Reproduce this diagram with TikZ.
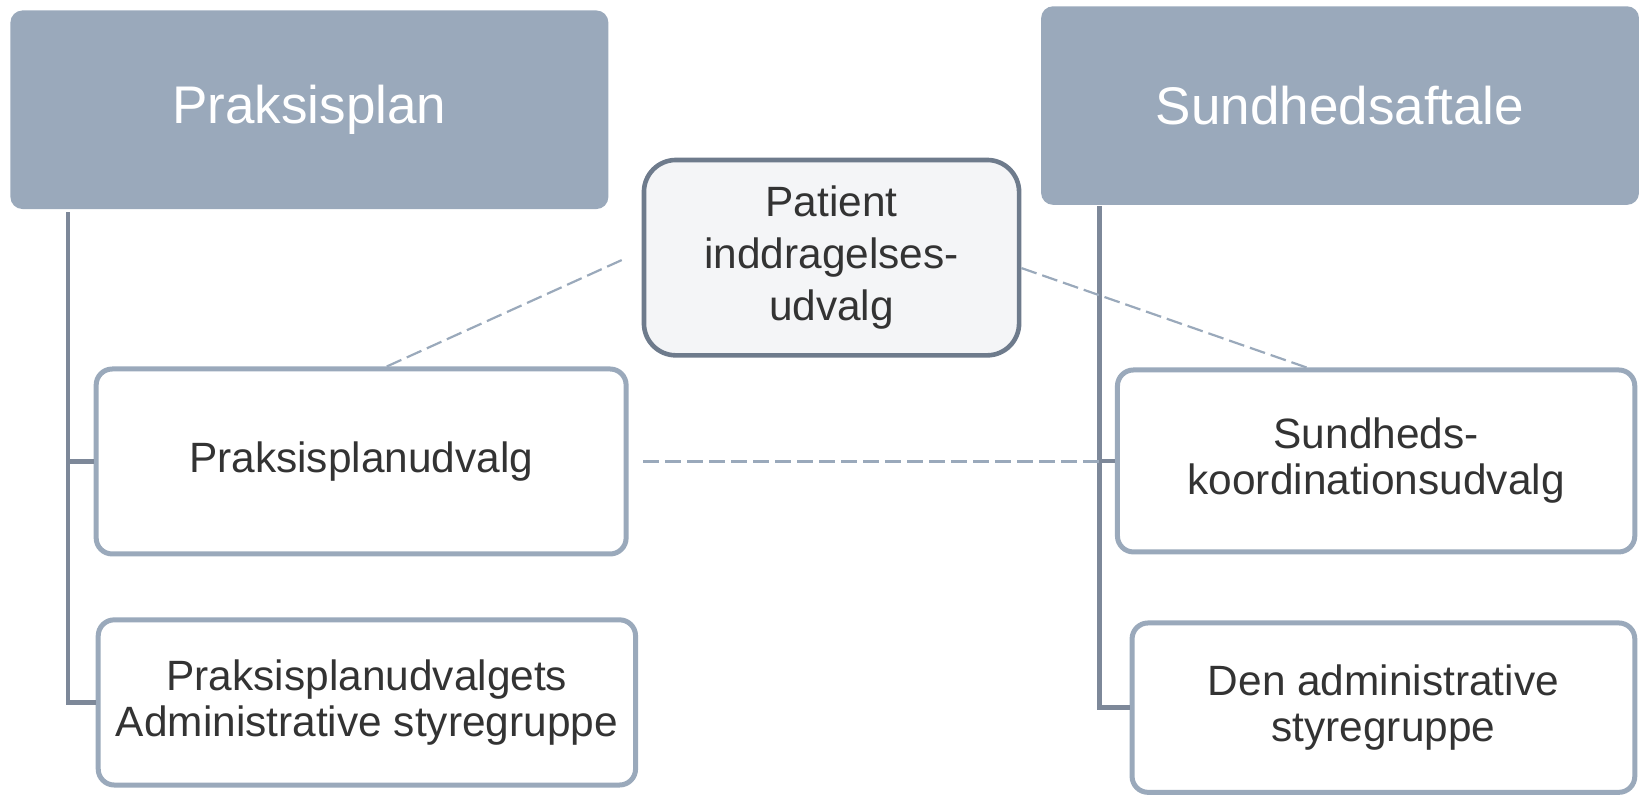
\documentclass[tikz,border=0pt]{standalone}
\usepackage{fontspec}
\setmainfont{Liberation Sans}
\definecolor{hdrfill}{HTML}{9AA9BB}
\definecolor{boxline}{HTML}{9AA9BB}
\definecolor{patline}{HTML}{6E7B8C}
\definecolor{patfill}{HTML}{F4F5F7}
\definecolor{treeline}{HTML}{7D8899}
\definecolor{txt}{HTML}{333333}
\begin{document}
\begin{tikzpicture}[x=0.5227pt, y=-0.5227pt,
		hdr/.style = {fill=hdrfill, rounded corners=6pt, text=white, inner sep=0pt, minimum width=299pt, minimum height=99.3pt, font=\fontsize{26.5}{31}\selectfont},
		sub/.style = {draw=boxline, line width=2.5pt, fill=white, rounded corners=8pt, inner sep=0pt, text=txt, align=center, font=\fontsize{21.2}{23}\selectfont},
		pat/.style = {draw=patline, line width=2.3pt, fill=patfill, rounded corners=16pt, inner sep=0pt, text=txt, align=center, font=\fontsize{21.2}{26.1}\selectfont},
		tree/.style = {draw=treeline, line width=2.4pt},
		link/.style = {draw=boxline, line width=1.1pt, dash pattern=on 8pt off 3pt}]
			\useasboundingbox (0,0) rectangle (1568,760.6);

			\node[hdr] (pp) at (296,105) {Praksisplan};
			\node[hdr] (sa) at (1282,101) {Sundhedsaftale};

			\node[pat, minimum width=187.6pt, minimum height=97.7pt] (pat) at (795.5,246.5) {Patient\\inddragelses-\\udvalg};

			\node[sub, minimum width=265pt, minimum height=92.5pt] (pu1) at (345.5,441.5) {Praksisplanudvalg};
			\node[sub, minimum width=268.7pt, minimum height=82.6pt] (pu2) at (351,672) {Praksisplanudvalgets\\Administrative styregruppe};

			\node[sub, minimum width=258.7pt, minimum height=91pt] (sk1) at (1316.5,441) {Sundheds-\\koordinationsudvalg};
			\node[sub, minimum width=251.4pt, minimum height=84.7pt] (sk2) at (1323.5,677) {Den administrative\\styregruppe};

			% tree lines
			\coordinate (lroot) at (65,203);
			\coordinate (rroot) at (1052,197);
			\draw[tree] (lroot) |- (pu2.west);
			\draw[tree] (lroot |- pu1.west) -- (pu1.west);
			\draw[tree] (rroot) |- (sk2.west);
			\draw[tree] (rroot |- sk1.west) -- (sk1.west);

			% dashed links
			\draw[link] ([xshift=12.8pt]pu1.north) -- ([xshift=-7.3pt]pat.west);
			\draw[link] ([yshift=-5.2pt]pat.east) -- ([xshift=-34.8pt]sk1.north);
			\draw[link] ([xshift=7.3pt]pu1.east) -- (rroot |- pu1.east);
		\end{tikzpicture}
\end{document}
